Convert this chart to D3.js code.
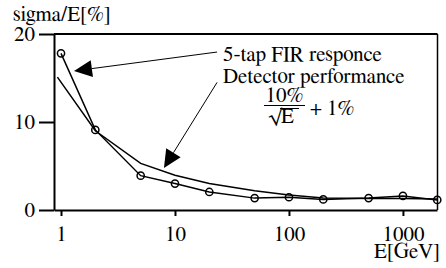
<!DOCTYPE html>
<html><head><meta charset="utf-8">
<script src="https://cdn.jsdelivr.net/npm/d3@7"></script>
<style>
html,body{margin:0;padding:0;background:#fff;}
svg{display:block;}
</style></head>
<body>
<svg id="c" width="446" height="268"></svg>
<script>
// ---- data ----
const energies = [1, 2, 5, 10, 20, 50, 100, 200, 500, 1000, 2000];
const firResponse = [17.8, 9.1, 3.9, 3.0, 2.05, 1.35, 1.45, 1.2, 1.35, 1.6, 1.15];
const detectorE = [0.93, 2, 5, 10, 20, 50, 100, 200, 500, 1000, 2000];
const detectorPerf = [15.1, 9.0, 5.3, 3.95, 3.0, 2.2, 1.7, 1.35, 1.3, 1.3, 1.25];
const xTicks = [1, 10, 100, 1000];
const yTicks = [0, 10, 20];
// annotation arrows in data space: [tailE, tailV, tipE, tipV]
const arrows = [[23.4, 17.95, 1.30, 15.8], [23.4, 14.5, 8.0, 4.77]];

const FONT = '"FreeSerif","Liberation Serif",serif';
const svg = d3.select("#c");
const x = d3.scaleLog().domain([0.868, 1990]).range([54, 437]);
const y = d3.scaleLinear().domain([0, 20]).range([210, 34]);

// frame top/right
svg.append("line").attr("x1", 54).attr("x2", 437.5).attr("y1", 34).attr("y2", 34)
  .attr("stroke", "#000").attr("stroke-width", 2);
svg.append("line").attr("x1", 437.5).attr("x2", 437.5).attr("y1", 34).attr("y2", 210)
  .attr("stroke", "#000").attr("stroke-width", 1.5);

// axes
const ya = svg.append("g").attr("transform", "translate(54,0)")
  .call(d3.axisLeft(y).tickValues(yTicks).tickSize(15).tickSizeOuter(0).tickPadding(4).tickFormat(d3.format("d")));
const xa = svg.append("g").attr("transform", "translate(0,210)")
  .call(d3.axisBottom(x).tickValues(xTicks).tickSize(6).tickSizeOuter(0).tickPadding(10).tickFormat(d3.format("d")));
[ya, xa].forEach(g => {
  g.attr("font-family", FONT).attr("font-size", 21);
  g.select(".domain").attr("stroke", "#000").attr("stroke-width", 2);
  g.selectAll(".tick line").attr("stroke", "#000").attr("stroke-width", 2);
  g.selectAll(".tick text").attr("font-family", FONT).attr("font-size", 21).attr("fill", "#000");
});

// series
const line = d3.line().x(d => x(d[0])).y(d => y(d[1]));
svg.append("path").datum(detectorE.map((e, i) => [e, detectorPerf[i]]))
  .attr("d", line).attr("fill", "none").attr("stroke", "#000").attr("stroke-width", 1.5);
const fir = energies.map((e, i) => [e, firResponse[i]]);
svg.append("path").datum(fir)
  .attr("d", line).attr("fill", "none").attr("stroke", "#000").attr("stroke-width", 1.5);
svg.selectAll("circle.pt").data(fir).enter().append("circle").attr("class", "pt")
  .attr("cx", d => x(d[0])).attr("cy", d => y(d[1])).attr("r", 3.6)
  .attr("fill", "none").attr("stroke", "#000").attr("stroke-width", 1.5);

// arrows
arrows.forEach(a => {
  const x0 = x(a[0]), y0 = y(a[1]), x1 = x(a[2]), y1 = y(a[3]);
  const dx = x1 - x0, dy = y1 - y0, L = Math.hypot(dx, dy);
  const ux = dx / L, uy = dy / L, hl = 18, hw = 8.5;
  const bx = x1 - ux * hl, by = y1 - uy * hl;
  svg.append("line").attr("x1", x0).attr("y1", y0).attr("x2", bx).attr("y2", by)
    .attr("stroke", "#000").attr("stroke-width", 1);
  svg.append("path")
    .attr("d", `M${x1},${y1}L${bx - uy * hw},${by + ux * hw}L${bx + uy * hw},${by - ux * hw}Z`)
    .attr("fill", "#000");
});

// texts
function txt(px, py, s, size, anchor) {
  return svg.append("text").attr("x", px).attr("y", py).attr("font-family", FONT)
    .attr("font-size", size).attr("text-anchor", anchor || "start").attr("fill", "#000").text(s);
}
txt(13, 21, "sigma/E[%]", 21);
txt(440, 258, "E[GeV]", 21, "end");
txt(223, 61, "5-tap FIR responce", 21);
txt(223, 83, "Detector performance", 21);
// formula
txt(284.5, 102, "10%", 21, "middle");
svg.append("line").attr("x1", 264).attr("x2", 305).attr("y1", 105.5).attr("y2", 105.5).attr("stroke", "#000").attr("stroke-width", 1.2);
txt(268, 123, "√E", 21);
svg.append("line").attr("x1", 280).attr("x2", 299).attr("y1", 108.5).attr("y2", 108.5).attr("stroke", "#000").attr("stroke-width", 1);
txt(310, 115, "+ 1%", 21);
</script>
</body></html>
